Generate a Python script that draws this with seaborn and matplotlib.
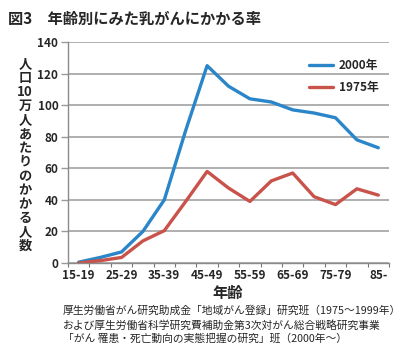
import matplotlib
matplotlib.use("Agg")
import matplotlib.pyplot as plt
import seaborn as sns
import pandas as pd
import numpy as np

age_groups = ["15-19", "20-24", "25-29", "30-34", "35-39", "40-44", "45-49",
              "50-54", "55-59", "60-64", "65-69", "70-74", "75-79", "80-84", "85-"]
rate_2000 = [0.5, 3.5, 7, 20, 40, 84, 125, 112, 104, 102, 97, 95, 92, 78, 73]
rate_1975 = [0, 1.5, 3.5, 14, 20.5, 39, 58, 47.5, 39, 52, 57, 42, 37, 47, 43]
series_labels = ["2000年", "1975年"]
series_colors = ["#2b86c9", "#c9524b"]
yticks = [0, 20, 40, 60, 80, 100, 120, 140]

title = "図3　年齢別にみた乳がんにかかる率"
ylabel = "人口10万人あたりのかかる人数"
xlabel = "年齢"
source = ["厚生労働省がん研究助成金「地域がん登録」研究班（1975〜1999年）",
          "および厚生労働省科学研究費補助金第3次対がん総合戦略研究事業",
          "「がん 罹患・死亡動向の実態把握の研究」班（2000年〜）"]

sns.set_theme(style="white")
plt.rcParams['font.family'] = ['Noto Sans CJK JP', 'DejaVu Sans']

pos = np.arange(len(age_groups))
df = pd.concat([
    pd.DataFrame({"pos": pos, "rate": rate_2000, "year": series_labels[0]}),
    pd.DataFrame({"pos": pos, "rate": rate_1975, "year": series_labels[1]}),
])

fig = plt.figure(figsize=(4.0, 3.59), dpi=100)
ax = fig.add_axes([68/400, 1-263/359, (389-68)/400, (263-42)/359])

sns.lineplot(data=df, x="pos", y="rate", hue="year", hue_order=series_labels,
             palette=series_colors, linewidth=2.4, ax=ax, legend=True)

ax.set_xlim(-0.5, 14.5)
ax.set_ylim(0, 140)
ax.set_yticks(yticks)
ax.set_yticklabels([str(v) for v in yticks], fontsize=8.5, fontweight='bold')
ax.yaxis.grid(True, color="#9a9a9a", linewidth=1.1)
ax.set_axisbelow(True)

ax.set_xticks(pos[::2])
ax.set_xticklabels(age_groups[::2], fontsize=8.5, fontweight='bold')
ax.set_xticks(np.arange(-0.5, 15, 1), minor=True)
ax.tick_params(axis='x', which='major', length=0, pad=4)
ax.tick_params(axis='x', which='minor', length=3, width=0.8, color="#777777", direction='out', bottom=True)
ax.tick_params(axis='y', which='major', length=5, width=1.0, color="#9a9a9a", direction='out', left=True, pad=2)

for s in ["top", "right"]:
    ax.spines[s].set_visible(False)
ax.spines["left"].set_color("#8a8a8a")
ax.spines["bottom"].set_color("#8a8a8a")
ax.spines["left"].set_linewidth(1.0)
ax.spines["bottom"].set_linewidth(1.0)

ax.set_xlabel("")
ax.set_ylabel("")

leg = ax.legend(loc="upper right", bbox_to_anchor=(1.0, 0.97), frameon=False,
                handlelength=2.0, labelspacing=0.75, fontsize=8.5, handletextpad=0.5)
for t in leg.get_texts():
    t.set_fontweight('bold')
for l in leg.get_lines():
    l.set_linewidth(2.4)

fig.text(8/400, 1-19/359, title, fontsize=11, fontweight='bold', va='center', ha='left')
fig.text(25/400, 1-155/359, "\n".join(["人", "口", "10", "万", "人", "あ", "た", "り", "の", "か", "か", "る", "人", "数"]),
         fontsize=9.5, fontweight='bold', ha='center', va='center', linespacing=1.0)
fig.text(228/400, 1-293/359, xlabel, fontsize=11, fontweight='bold', ha='center', va='center')
for i, line in enumerate(source):
    fig.text(63/400, 1-(311+14*i)/359, line, fontsize=7.75, ha='left', va='center')

fig.savefig("out.png", dpi=100)
